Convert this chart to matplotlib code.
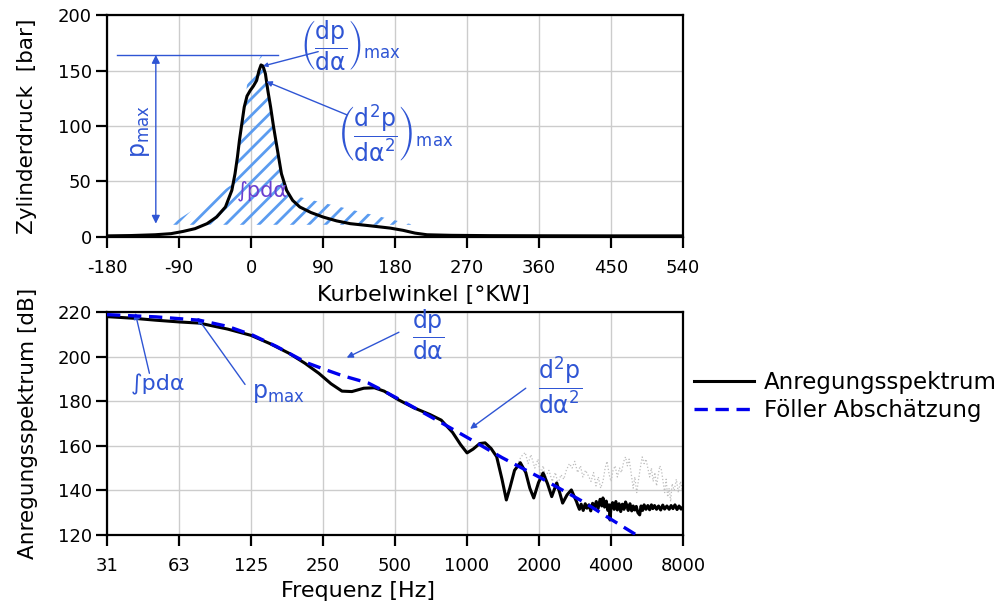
import matplotlib
matplotlib.use("Agg")
import matplotlib.pyplot as plt
import numpy as np

plt.rcParams['font.family'] = ['DejaVu Sans']
plt.rcParams['mathtext.fontset'] = 'dejavusans'
plt.rcParams['axes.unicode_minus'] = False
plt.rcParams['hatch.linewidth'] = 2.0

# ---------------- data: cylinder pressure ----------------
angle = [-180, -150, -120, -100, -85, -70, -55, -43, -32, -24, -20, -17, -14.5,
         -11.5, -8.5, -5, -1, 3, 7, 10, 12.5, 15, 18, 21, 24.5, 28, 31, 34.5,
         38, 44.5, 52, 61, 75, 90, 107, 124, 150, 174, 190, 205, 220, 250, 300,
         360, 450, 540]
pressure = [1.0, 1.3, 2.0, 3.0, 5, 7.5, 12, 18, 27, 42, 57, 72, 87,
            102, 117, 127, 132, 136, 141, 150, 155, 154, 147, 132, 117, 100, 87, 72,
            57, 42, 33, 27, 22, 18, 14.5, 12, 10, 8, 6, 3.5, 2, 1.5, 1.2,
            1.1, 1.0, 1.0]

# hatched work area envelope (deg, bar)
hatch_angle = [-101, -22, -20, -17, -14.5, -11.5, -8.5, -5, 3, 13, 18, 21, 24.5,
               28, 31, 34.5, 38, 44.5, 49, 203, 203, -101]
hatch_p = [11, 48, 57, 72, 87, 102, 117, 137, 150, 164, 147, 132, 117,
           100, 87, 72, 57, 42, 38, 11, 11, 11]

angle_ticks = [-180, -90, 0, 90, 180, 270, 360, 450, 540]
pressure_ticks = [0, 50, 100, 150, 200]

# ---------------- data: excitation spectrum ----------------
spec_f = [31.25, 40, 50, 63, 76, 100, 125, 150, 180, 210, 240, 270, 300, 330,
          370, 410, 450, 519, 600, 700, 780, 870, 940, 1000, 1060, 1130, 1190,
          1260, 1330, 1400, 1460, 1510, 1580, 1670, 1760, 1830, 1900, 1990, 2080,
          2170, 2260, 2370, 2440, 2510, 2620, 2730, 2800, 2870,
          2900, 2950, 3000, 3060, 3120, 3170, 3230, 3290, 3350, 3410, 3470, 3530,
          3600, 3660, 3700, 3760, 3820, 3880, 3930, 3960, 4000, 4060, 4120, 4190,
          4250, 4320, 4390, 4460, 4530, 4600, 4650, 4720, 4800, 4880, 4950, 5030,
          5100, 5180, 5270, 5340, 5420, 5500, 5600, 5700, 5800, 5900, 5980, 6080,
          6200, 6320, 6450, 6580, 6700, 6850, 7000, 7130, 7260, 7400, 7550, 7700,
          7850, 8000]
spec_db = [217.9, 217.2, 216.3, 215.5, 215.0, 212.3, 209.5, 205.8, 201.5, 197.0,
           192.5, 187.8, 184.5, 184.3, 185.8, 186.0, 184.5, 180.5, 177.0, 174.0,
           171.5, 166.0, 160.5, 156.8, 158.5, 161.0, 161.3, 158.8, 155.1, 145.0,
           135.7, 141.0, 149.0, 152.4, 148.0, 141.0, 136.6, 143.5, 147.8, 143.0,
           137.2, 143.3, 139.0, 134.3, 138.0, 140.2, 137.5, 134.9,
           133.5, 131.5, 133.8, 131.0, 134.0, 132.0, 133.5, 130.8, 134.2, 132.3,
           135.0, 131.8, 136.0, 133.0, 136.6, 132.5, 135.2, 131.0, 133.5, 126.7,
           132.8, 134.5, 131.5, 135.0, 131.2, 134.0, 130.5, 133.8, 131.5, 134.8,
           133.5, 131.0, 134.0, 130.8, 133.0, 131.2, 132.8, 130.0, 129.0, 133.0,
           131.0, 133.5, 131.5, 133.2, 131.3, 133.5, 131.8, 133.2, 131.5, 133.0,
           131.2, 133.4, 131.6, 133.0, 131.5, 133.2, 131.8, 133.5, 131.4, 133.0,
           131.6, 132.6]

raw_f = [1600, 1680, 1750, 1800, 1850, 1920, 1980, 2030, 2080, 2130, 2200, 2270,
         2340, 2400, 2470, 2540, 2600, 2680, 2750, 2820, 2900, 2980, 3050, 3130,
         3200, 3300, 3380, 3460, 3540, 3620, 3700, 3780, 3850, 3930, 4000, 4080,
         4160, 4250, 4340, 4420, 4520, 4600, 4680, 4760, 4850, 4950, 5030, 5120,
         5200, 5300, 5400, 5500, 5600, 5700, 5800, 5900, 6000, 6100, 6200, 6300,
         6400, 6500, 6600, 6700, 6800, 6900, 7000, 7100, 7200, 7350, 7500, 7650,
         7800, 7950, 8000]
raw_db = [150, 155, 157, 152, 156, 150, 154, 147, 151, 146, 149, 144,
          148, 143, 147, 145, 149, 152, 150, 153, 148, 151, 146, 149,
          147, 144, 148, 142, 146, 141, 144, 150, 153, 147, 144, 149,
          151, 146, 150, 148, 153, 155, 151, 154, 148, 141, 146, 139,
          144, 150, 155, 152, 154, 150, 146, 150, 144, 148, 142, 147,
          151, 149, 144, 139, 145, 137, 141, 135, 143, 140, 145, 139,
          144, 140, 142]

foeller_f = [31.25, 50, 76, 100, 127, 160, 214, 250, 300, 387, 450, 559, 750,
             1010, 1400, 2040, 3060, 3960, 5160]
foeller_db = [218.8, 217.8, 216.3, 213.5, 209.6, 204.5, 197.2, 194.5, 191.5,
              188.1, 184.5, 179.0, 171.4, 163.5, 154.7, 145.5, 134.9, 127.3, 119.7]

freq_ticks = [31.25, 62.5, 125, 250, 500, 1000, 2000, 4000, 8000]
freq_labels = ['31', '63', '125', '250', '500', '1000', '2000', '4000', '8000']
db_ticks = [120, 140, 160, 180, 200, 220]

ANN = '#2f55d4'
HATCH = '#5b9cf0'
GRID = '#cccccc'

fig = plt.figure(figsize=(10.03, 6.10), dpi=100)
ax1 = fig.add_axes([0.1067, 0.6115, 0.5743, 0.3639])
ax2 = fig.add_axes([0.1067, 0.1230, 0.5743, 0.3656])

for ax in (ax1, ax2):
    ax.set_axisbelow(True)
    ax.grid(True, color=GRID, lw=1.0)
    for s in ax.spines.values():
        s.set_linewidth(1.6)
        s.set_color('black')
    ax.tick_params(direction='out', length=8, width=1.6, labelsize=13,
                   colors='black')
    ax.tick_params(axis='x', pad=8)
    ax.tick_params(axis='y', pad=3)

# ---------------- top plot ----------------
ax1.fill(hatch_angle, hatch_p, facecolor='none', edgecolor=HATCH, lw=0,
         hatch='//', zorder=2)
ax1.plot(angle, pressure, color='black', lw=2.2, zorder=3)
ax1.set_xlim(-180, 540)
ax1.set_ylim(0, 200)
ax1.set_xticks(angle_ticks)
ax1.set_xticklabels([str(a) for a in angle_ticks])
ax1.set_yticks(pressure_ticks)
ax1.set_xlabel('Kurbelwinkel [°KW]', fontsize=16)
ax1.xaxis.set_label_coords(0.549, -0.215)
ax1.set_ylabel('Zylinderdruck  [bar]', fontsize=15.5)
ax1.yaxis.set_label_coords(-0.122, 0.5)

# p_max annotation
ax1.plot([-167, 34], [164, 164], color=ANN, lw=1.0, zorder=4)
ax1.annotate('', xy=(-119, 12), xytext=(-119, 164),
             arrowprops=dict(arrowstyle='<|-|>', color=ANN, lw=1.0,
                             mutation_scale=12, shrinkA=0, shrinkB=0))
ax1.text(-139, 95, r'$\mathrm{p_{max}}$', color=ANN, fontsize=17,
         rotation=90, ha='center', va='center')
ax1.text(14, 42, '∫pdα', color='#6b3fd0', fontsize=15, ha='center',
         va='center', zorder=5)
ax1.annotate('', xy=(15, 154), xytext=(84, 167),
             arrowprops=dict(arrowstyle='-|>', color=ANN, lw=1.0,
                             mutation_scale=6, shrinkA=0, shrinkB=0))
ax1.text(124, 172, r'$\left(\dfrac{\mathrm{dp}}{\mathrm{d\alpha}}\right)_{\mathrm{max}}$',
         color=ANN, fontsize=17, ha='center', va='center')
ax1.annotate('', xy=(19, 140), xytext=(120, 110),
             arrowprops=dict(arrowstyle='-|>', color=ANN, lw=1.0,
                             mutation_scale=8, shrinkA=0, shrinkB=0))
ax1.text(180, 94, r'$\left(\dfrac{\mathrm{d^2p}}{\mathrm{d\alpha^2}}\right)_{\mathrm{max}}$',
         color=ANN, fontsize=17, ha='center', va='center')

# ---------------- bottom plot ----------------
ax2.set_xscale('log')
ax2.plot(raw_f, raw_db, color='#bdbdbd', lw=0.9, ls=':', zorder=2)
ax2.plot(spec_f, spec_db, color='black', lw=2.2, zorder=3,
         label='Anregungsspektrum')
ax2.plot(foeller_f, foeller_db, color='#0000ee', lw=2.4, dashes=(4, 2.3),
         zorder=4, label='Föller Abschätzung')
ax2.set_xlim(31.25, 8000)
ax2.set_ylim(120, 220)
ax2.set_xticks(freq_ticks)
ax2.set_xticklabels(freq_labels)
ax2.xaxis.set_minor_locator(matplotlib.ticker.NullLocator())
ax2.set_yticks(db_ticks)
ax2.set_xlabel('Frequenz [Hz]', fontsize=16)
ax2.xaxis.set_label_coords(0.436, -0.205)
ax2.set_ylabel('Anregungsspektrum [dB]', fontsize=15.5)
ax2.yaxis.set_label_coords(-0.12, 0.5)

ax2.annotate('', xy=(41, 219.6), xytext=(47, 192.5),
             arrowprops=dict(arrowstyle='-|>', color=ANN, lw=1.0,
                             mutation_scale=9, shrinkA=0, shrinkB=0))
ax2.text(51, 187.3, '∫pdα', color=ANN, fontsize=16, ha='center', va='center')
ax2.annotate('', xy=(74.5, 217.5), xytext=(118, 187.5),
             arrowprops=dict(arrowstyle='-|>', color=ANN, lw=1.0,
                             mutation_scale=9, shrinkA=0, shrinkB=0))
ax2.text(163, 183.7, r'$\mathrm{p_{max}}$', color=ANN, fontsize=17,
         ha='center', va='center')
ax2.annotate('', xy=(314, 199.5), xytext=(519, 210.9),
             arrowprops=dict(arrowstyle='-|>', color=ANN, lw=1.0,
                             mutation_scale=9, shrinkA=0, shrinkB=0))
ax2.text(687, 209.7, r'$\dfrac{\mathrm{dp}}{\mathrm{d\alpha}}$', color=ANN,
         fontsize=17, ha='center', va='center')
ax2.annotate('', xy=(1030, 167.6), xytext=(1760, 185.8),
             arrowprops=dict(arrowstyle='-|>', color=ANN, lw=1.0,
                             mutation_scale=9, shrinkA=0, shrinkB=0))
ax2.text(2440, 187.3, r'$\dfrac{\mathrm{d^2p}}{\mathrm{d\alpha^2}}$', color=ANN,
         fontsize=17, ha='center', va='center')

leg = ax2.legend(loc='center left', bbox_to_anchor=(0.692, 0.35),
                 bbox_transform=fig.transFigure, frameon=False, fontsize=16.5,
                 handlelength=2.6, handletextpad=0.45, labelspacing=0.2,
                 borderpad=0, borderaxespad=0)

fig.savefig('out.png', dpi=100)
